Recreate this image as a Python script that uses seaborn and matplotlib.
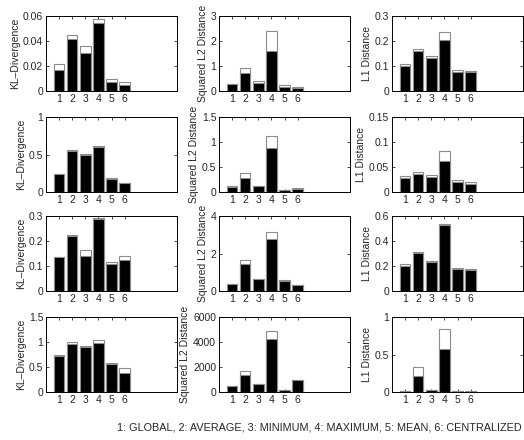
import numpy as np
import pandas as pd
import matplotlib
matplotlib.use('Agg')
import matplotlib.pyplot as plt
import seaborn as sns

# methods 1..6
methods = [1, 2, 3, 4, 5, 6]
footer = '1: GLOBAL, 2: AVERAGE, 3: MINIMUM, 4: MAXIMUM, 5: MEAN, 6: CENTRALIZED'

# rows of the figure, columns: KL, squared L2, L1
# black = lower part, total = top of white part
kl_1_black = [0.0171, 0.0416, 0.030, 0.054, 0.0069, 0.005]
kl_1_total = [0.0216, 0.045, 0.0363, 0.0576, 0.0093, 0.0072]
l2_1_black = [0.27, 0.73, 0.33, 1.6, 0.16, 0.13]
l2_1_total = [0.28, 0.93, 0.40, 2.4, 0.22, 0.15]
l1_1_black = [0.099, 0.158, 0.13, 0.203, 0.077, 0.074]
l1_1_total = [0.106, 0.168, 0.138, 0.237, 0.082, 0.081]

kl_2_black = [0.24, 0.55, 0.50, 0.60, 0.17, 0.12]
kl_2_total = [0.245, 0.555, 0.505, 0.62, 0.18, 0.12]
l2_2_black = [0.09, 0.27, 0.12, 0.88, 0.03, 0.05]
l2_2_total = [0.12, 0.37, 0.125, 1.12, 0.03, 0.07]
l1_2_black = [0.027, 0.035, 0.029, 0.062, 0.020, 0.015]
l1_2_total = [0.032, 0.040, 0.033, 0.082, 0.024, 0.019]

kl_3_black = [0.137, 0.22, 0.14, 0.29, 0.11, 0.126]
kl_3_total = [0.138, 0.226, 0.163, 0.292, 0.115, 0.14]
l2_3_black = [0.40, 1.45, 0.62, 2.80, 0.55, 0.32]
l2_3_total = [0.40, 1.65, 0.64, 3.15, 0.60, 0.33]
l1_3_black = [0.20, 0.305, 0.23, 0.525, 0.18, 0.17]
l1_3_total = [0.215, 0.315, 0.237, 0.535, 0.182, 0.18]

kl_4_black = [0.73, 0.96, 0.90, 0.99, 0.57, 0.38]
kl_4_total = [0.735, 1.00, 0.93, 1.05, 0.575, 0.48]
l2_4_black = [500, 1400, 620, 4250, 150, 950]
l2_4_total = [510, 1650, 630, 4900, 160, 960]
l1_4_black = [0.015, 0.21, 0.025, 0.57, 0.010, 0.008]
l1_4_total = [0.016, 0.33, 0.026, 0.84, 0.011, 0.009]

panels = [
    [(kl_1_black, kl_1_total, 'KL–Divergence', [0, 0.02, 0.04, 0.06]),
     (l2_1_black, l2_1_total, 'Squared L2 Distance', [0, 1, 2, 3]),
     (l1_1_black, l1_1_total, 'L1 Distance', [0, 0.1, 0.2, 0.3])],
    [(kl_2_black, kl_2_total, 'KL–Divergence', [0, 0.5, 1]),
     (l2_2_black, l2_2_total, 'Squared L2 Distance', [0, 0.5, 1, 1.5]),
     (l1_2_black, l1_2_total, 'L1 Distance', [0, 0.05, 0.1, 0.15])],
    [(kl_3_black, kl_3_total, 'KL–Divergence', [0, 0.1, 0.2, 0.3]),
     (l2_3_black, l2_3_total, 'Squared L2 Distance', [0, 2, 4]),
     (l1_3_black, l1_3_total, 'L1 Distance', [0, 0.2, 0.4, 0.6])],
    [(kl_4_black, kl_4_total, 'KL–Divergence', [0, 0.5, 1, 1.5]),
     (l2_4_black, l2_4_total, 'Squared L2 Distance', [0, 2000, 4000, 6000]),
     (l1_4_black, l1_4_total, 'L1 Distance', [0, 0.5, 1])],
]

sns.set_style('ticks')
plt.rcParams['font.family'] = ['Liberation Sans', 'DejaVu Sans']
plt.rcParams['font.size'] = 7.5
plt.rcParams['xtick.direction'] = 'in'
plt.rcParams['ytick.direction'] = 'in'
plt.rcParams['xtick.major.size'] = 2.5
plt.rcParams['ytick.major.size'] = 2.5
plt.rcParams['axes.linewidth'] = 0.7

fig = plt.figure(figsize=(5.24, 4.40), dpi=100)

lefts = [46 / 524, 219 / 524, 392 / 524]
bottoms = [(440 - 91) / 440, (440 - 192) / 440, (440 - 291) / 440, (440 - 392) / 440]
w = 131 / 524
h = 75 / 440

for r, row in enumerate(panels):
    for c, (black, total, ylabel, yticks) in enumerate(row):
        ax = fig.add_axes([lefts[c], bottoms[r], w, h])
        df = pd.DataFrame({'method': methods, 'black': black, 'total': total})
        sns.barplot(data=df, x='method', y='total', color='white', saturation=1,
                    edgecolor='0.55', linewidth=0.8, native_scale=True, width=0.8, ax=ax)
        sns.barplot(data=df, x='method', y='black', color='black', saturation=1,
                    edgecolor='0.55', linewidth=0.8, native_scale=True, width=0.8, ax=ax)
        ax.set_xlim(0, 10)
        ax.set_ylim(yticks[0], yticks[-1])
        ax.set_xticks(methods)
        ax.set_xticklabels([str(m) for m in methods])
        ax.set_yticks(yticks)
        ax.set_yticklabels(['%g' % t for t in yticks])
        ax.set_xlabel('')
        ax.set_ylabel(ylabel, labelpad=2)
        ax.tick_params(top=True, right=True, labelsize=7.5, pad=2, width=0.6)
        for s in ax.spines.values():
            s.set_visible(True)
            s.set_color('black')

fig.text(522 / 524, 1 - 427 / 440, footer, ha='right', va='center', fontsize=7.8)

fig.savefig('out.png', dpi=100)
